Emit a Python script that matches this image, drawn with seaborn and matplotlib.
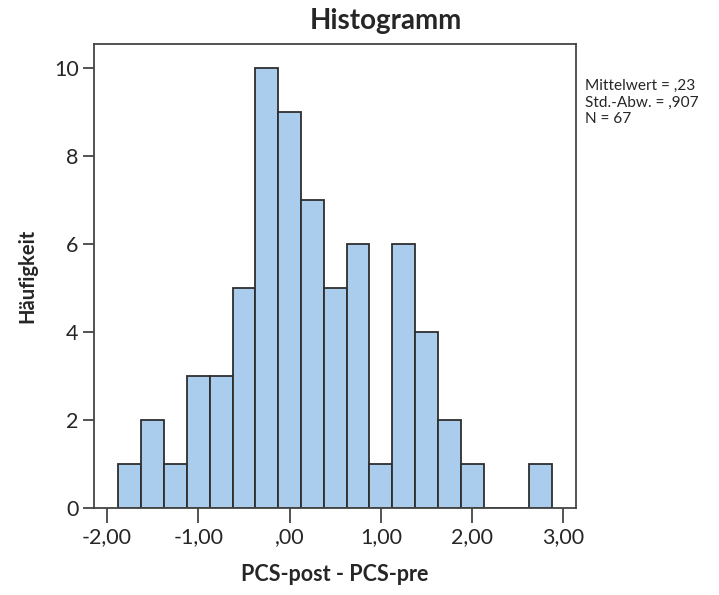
import numpy as np
import pandas as pd
import matplotlib
matplotlib.use("Agg")
import matplotlib.pyplot as plt
import seaborn as sns

# Data
bin_centers = [-1.75, -1.5, -1.25, -1.0, -0.75, -0.5, -0.25, 0.0, 0.25, 0.5,
               0.75, 1.0, 1.25, 1.5, 1.75, 2.0, 2.25, 2.5, 2.75]
counts = [1, 2, 1, 3, 3, 5, 10, 9, 7, 5, 6, 1, 6, 4, 2, 1, 0, 0, 1]
x_ticks = [-2, -1, 0, 1, 2, 3]
x_tick_labels = ["-2,00", "-1,00", ",00", "1,00", "2,00", "3,00"]
y_ticks = [0, 2, 4, 6, 8, 10]
stats_lines = ["Mittelwert = ,23", "Std.-Abw. = ,907", "N = 67"]

df = pd.DataFrame({"PCS-post - PCS-pre": bin_centers, "n": counts})
bin_width = 0.25
brange = (bin_centers[0] - bin_width / 2, bin_centers[-1] + bin_width / 2)

sns.set_style("white")
plt.rcParams["font.family"] = ["Lato", "DejaVu Sans"]

fig = plt.figure(figsize=(7.19, 5.95), dpi=100)
ax = fig.add_axes([94 / 719, 1 - 508 / 595, (576 - 94) / 719, (508 - 44) / 595])

sns.histplot(data=df, x="PCS-post - PCS-pre", weights="n", binwidth=bin_width,
             binrange=brange, color="#aacdee", alpha=1.0, edgecolor="#2e2e2e",
             linewidth=1.3, ax=ax)

ax.set_xlim(-2.142, 3.137)
ax.set_ylim(0, 10.55)
ax.set_xticks(x_ticks)
ax.set_xticklabels(x_tick_labels)
ax.set_yticks(y_ticks)
for s in ax.spines.values():
    s.set_color("#444444")
    s.set_linewidth(1.3)
ax.tick_params(axis="x", direction="out", length=11, width=1.3, color="#444444",
               labelsize=15.5, pad=3, bottom=True)
ax.tick_params(axis="y", direction="out", length=8, width=1.3, color="#444444",
               labelsize=15.5, pad=3, left=True)
ax.set_xlabel("PCS-post - PCS-pre", fontsize=15.5, fontweight="bold", labelpad=12)
ax.set_ylabel("Häufigkeit", fontsize=14.5, fontweight="bold", labelpad=12)

fig.text(386 / 719, 1 - 21 / 595, "Histogramm", fontsize=20, fontweight="bold",
         ha="center", va="center")
fig.text(585 / 719, 1 - 79 / 595, "\n".join(stats_lines), fontsize=11.1,
         ha="left", va="top", linespacing=1.22)

fig.savefig("out.png", dpi=100)
